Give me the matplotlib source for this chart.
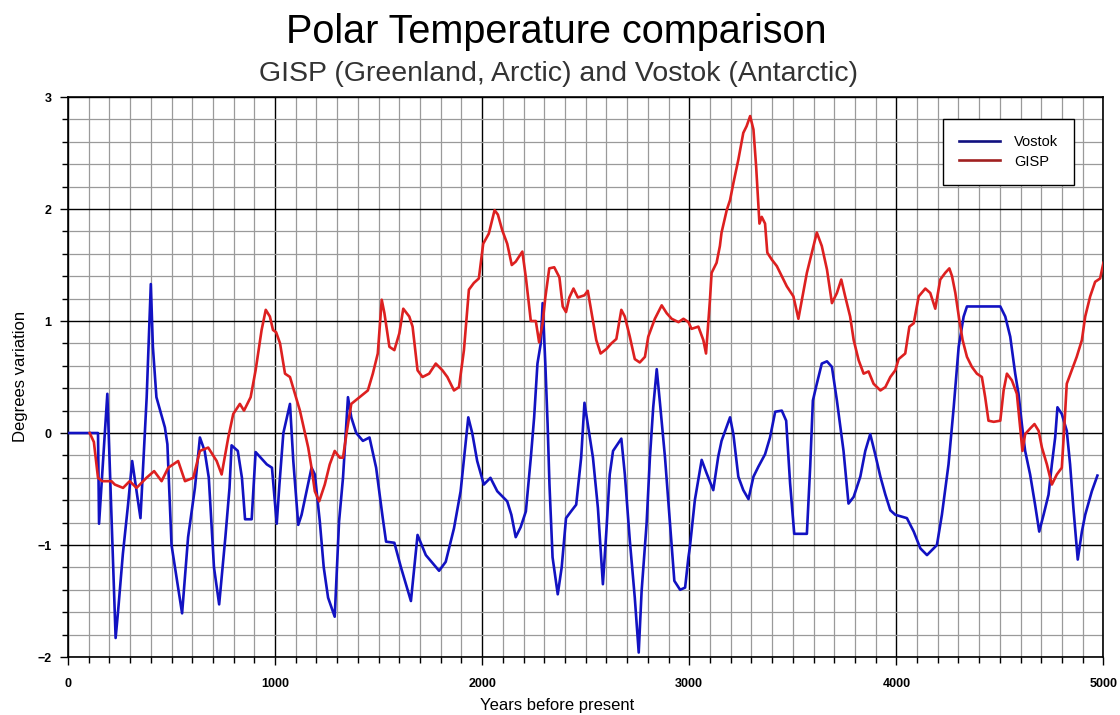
import numpy as np
import matplotlib
matplotlib.use("Agg")
import matplotlib.pyplot as plt
from matplotlib.ticker import MultipleLocator

# Vostok (Antarctic) series
vostok_years = [0, 145, 150, 190, 230, 242, 265, 290, 310, 350, 380, 400, 410, 427, 468, 480,
                500, 551, 580, 613, 637, 660, 680, 705, 730, 760, 780, 790, 820, 840, 855, 887,
                906, 960, 985, 1008, 1021, 1040, 1072, 1088, 1112, 1128, 1152, 1176, 1192, 1216,
                1235, 1256, 1288, 1309, 1328, 1352, 1368, 1392, 1424, 1456, 1488, 1520, 1536,
                1576, 1608, 1656, 1688, 1728, 1792, 1824, 1864, 1896, 1933, 1952, 1976, 2008,
                2040, 2073, 2121, 2141, 2162, 2186, 2211, 2235, 2251, 2267, 2283, 2292, 2305,
                2316, 2325, 2340, 2365, 2384, 2405, 2429, 2454, 2478, 2494, 2510, 2535, 2559,
                2583, 2600, 2616, 2632, 2672, 2689, 2713, 2737, 2756, 2770, 2794, 2810, 2826,
                2843, 2859, 2883, 2907, 2928, 2956, 2980, 2996, 3003, 3027, 3060, 3084, 3116,
                3140, 3156, 3197, 3213, 3237, 3261, 3286, 3310, 3334, 3366, 3390, 3415, 3447,
                3468, 3487, 3507, 3568, 3584, 3597, 3616, 3640, 3665, 3689, 3713, 3745, 3769,
                3794, 3826, 3850, 3874, 3898, 3923, 3947, 3971, 3995, 4051, 4084, 4116, 4148,
                4196, 4220, 4252, 4277, 4301, 4325, 4341, 4502, 4526, 4550, 4574, 4590, 4606,
                4622, 4646, 4670, 4690, 4711, 4735, 4751, 4767, 4778, 4799, 4823, 4839, 4855,
                4876, 4896, 4912, 4944, 4971]
vostok_temp = [0, 0, -0.81, 0.35, -1.83, -1.59, -1.08, -0.64, -0.25, -0.76, 0.32, 1.33, 0.77,
               0.32, 0.05, -0.1, -1.0, -1.61, -0.93, -0.49, -0.04, -0.16, -0.4, -1.2, -1.53,
               -0.93, -0.49, -0.11, -0.16, -0.4, -0.77, -0.77, -0.17, -0.28, -0.31, -0.81,
               -0.46, 0.0, 0.26, -0.25, -0.82, -0.73, -0.52, -0.31, -0.37, -0.79, -1.2, -1.47,
               -1.64, -0.79, -0.4, 0.32, 0.14, 0.0, -0.07, -0.04, -0.31, -0.76, -0.97, -0.98,
               -1.2, -1.5, -0.91, -1.09, -1.23, -1.15, -0.85, -0.52, 0.14, 0.0, -0.25, -0.46,
               -0.4, -0.52, -0.61, -0.73, -0.93, -0.84, -0.7, -0.22, 0.14, 0.62, 0.8, 1.16,
               0.62, 0.08, -0.46, -1.11, -1.44, -1.2, -0.76, -0.7, -0.64, -0.22, 0.27, 0.08,
               -0.22, -0.67, -1.35, -0.87, -0.37, -0.16, -0.05, -0.37, -0.96, -1.47, -1.96,
               -1.41, -0.81, -0.22, 0.23, 0.57, 0.26, -0.22, -0.81, -1.32, -1.4, -1.38, -1.11,
               -1.02, -0.6, -0.24, -0.36, -0.51, -0.21, -0.07, 0.14, -0.01, -0.39, -0.51, -0.59,
               -0.39, -0.3, -0.19, -0.04, 0.19, 0.2, 0.11, -0.45, -0.9, -0.9, -0.3, 0.29, 0.44,
               0.62, 0.64, 0.59, 0.29, -0.16, -0.63, -0.57, -0.39, -0.16, -0.01, -0.19, -0.39,
               -0.55, -0.69, -0.73, -0.76, -0.88, -1.03, -1.09, -1.0, -0.73, -0.28, 0.23, 0.77,
               1.04, 1.13, 1.13, 1.04, 0.86, 0.53, 0.35, 0.08, -0.16, -0.37, -0.64, -0.88,
               -0.73, -0.55, -0.28, -0.04, 0.23, 0.17, 0.02, -0.28, -0.67, -1.13, -0.88, -0.73,
               -0.52, -0.38]

# GISP (Greenland) series
gisp_years = [105, 125, 145, 165, 210, 226, 266, 298, 331, 379, 416, 452, 484, 532, 565, 605,
              637, 677, 718, 742, 774, 798, 830, 850, 882, 906, 935, 955, 975, 990, 1005, 1024,
              1048, 1072, 1096, 1120, 1144, 1160, 1176, 1192, 1213, 1240, 1264, 1288, 1312,
              1328, 1347, 1368, 1408, 1448, 1472, 1496, 1515, 1528, 1552, 1576, 1600, 1619,
              1648, 1664, 1688, 1712, 1744, 1776, 1808, 1832, 1864, 1888, 1912, 1936, 1960,
              1984, 2005, 2032, 2060, 2076, 2097, 2121, 2143, 2162, 2194, 2211, 2235, 2259,
              2275, 2292, 2305, 2324, 2348, 2373, 2389, 2405, 2421, 2441, 2462, 2494, 2510,
              2535, 2551, 2572, 2600, 2624, 2648, 2672, 2689, 2713, 2737, 2761, 2786, 2802,
              2834, 2867, 2891, 2915, 2948, 2972, 2996, 3011, 3044, 3068, 3081, 3100, 3108,
              3132, 3148, 3156, 3181, 3197, 3213, 3237, 3261, 3277, 3294, 3310, 3323, 3334,
              3339, 3350, 3366, 3377, 3398, 3423, 3447, 3471, 3503, 3527, 3544, 3568, 3592,
              3616, 3640, 3665, 3689, 3713, 3734, 3753, 3777, 3794, 3818, 3842, 3866, 3890,
              3923, 3947, 3971, 3995, 4011, 4043, 4063, 4084, 4108, 4140, 4164, 4188, 4212,
              4236, 4256, 4269, 4285, 4304, 4320, 4341, 4365, 4389, 4413, 4429, 4445, 4470,
              4502, 4518, 4534, 4558, 4582, 4598, 4609, 4622, 4646, 4667, 4687, 4703, 4727,
              4751, 4775, 4799, 4810, 4823, 4847, 4871, 4896, 4912, 4936, 4960, 4984, 5000]
gisp_temp = [0, -0.08, -0.4, -0.43, -0.43, -0.46, -0.49, -0.43, -0.49, -0.4, -0.34, -0.43,
             -0.31, -0.25, -0.43, -0.4, -0.16, -0.13, -0.25, -0.37, -0.04, 0.17, 0.26, 0.2,
             0.32, 0.56, 0.92, 1.1, 1.04, 0.92, 0.9, 0.8, 0.53, 0.5, 0.35, 0.2, 0.0, -0.13,
             -0.31, -0.52, -0.61, -0.46, -0.28, -0.16, -0.22, -0.22, 0.02, 0.26, 0.32, 0.38,
             0.53, 0.71, 1.19, 1.07, 0.77, 0.74, 0.89, 1.11, 1.04, 0.95, 0.56, 0.5, 0.53, 0.62,
             0.56, 0.5, 0.38, 0.41, 0.74, 1.28, 1.34, 1.38, 1.69, 1.78, 1.99, 1.95, 1.81, 1.69,
             1.5, 1.53, 1.62, 1.39, 1.0, 1.0, 0.81, 0.98, 1.21, 1.47, 1.48, 1.39, 1.13, 1.08,
             1.21, 1.29, 1.21, 1.23, 1.27, 1.0, 0.83, 0.71, 0.75, 0.8, 0.84, 1.1, 1.04, 0.86,
             0.66, 0.63, 0.68, 0.86, 1.02, 1.14, 1.07, 1.02, 0.99, 1.02, 0.99, 0.93, 0.95, 0.83,
             0.71, 1.19, 1.43, 1.52, 1.67, 1.79, 1.99, 2.08, 2.23, 2.44, 2.68, 2.74, 2.83, 2.71,
             2.38, 2.02, 1.87, 1.93, 1.87, 1.61, 1.55, 1.49, 1.4, 1.31, 1.22, 1.02, 1.19, 1.43,
             1.61, 1.79, 1.67, 1.46, 1.16, 1.25, 1.37, 1.22, 1.04, 0.83, 0.65, 0.53, 0.55, 0.44,
             0.38, 0.41, 0.5, 0.56, 0.66, 0.71, 0.95, 0.98, 1.22, 1.29, 1.25, 1.11, 1.37, 1.43,
             1.47, 1.4, 1.25, 1.01, 0.83, 0.68, 0.59, 0.53, 0.5, 0.32, 0.11, 0.1, 0.11, 0.38,
             0.53, 0.47, 0.35, 0.05, -0.16, -0.01, 0.04, 0.08, 0.02, -0.13, -0.28, -0.46, -0.37,
             -0.31, 0.02, 0.44, 0.56, 0.68, 0.83, 1.04, 1.22, 1.35, 1.38, 1.52]

plt.rcParams['font.family'] = ['Liberation Sans', 'DejaVu Sans']

fig = plt.figure(figsize=(11.2, 7.15), dpi=100)
ax = fig.add_axes([0.0607, 0.0811, 0.9245, 0.7832])

ax.plot(vostok_years, vostok_temp, color='#1212c2', lw=1.9, label='Vostok', zorder=3)
ax.plot(gisp_years, gisp_temp, color='#dd2020', lw=1.9, label='GISP', zorder=3)

ax.set_xlim(0, 5000)
ax.set_ylim(-2, 3)
ax.xaxis.set_major_locator(MultipleLocator(1000))
ax.xaxis.set_minor_locator(MultipleLocator(100))
ax.yaxis.set_major_locator(MultipleLocator(1))
ax.yaxis.set_minor_locator(MultipleLocator(0.2))
ax.grid(which='minor', color='#9a9a9a', lw=0.9)
ax.grid(which='major', color='black', lw=1.0)
ax.set_axisbelow(True)
ax.tick_params(which='major', direction='out', length=6, width=1, labelsize=9)
ax.tick_params(which='minor', direction='out', length=4, width=1)
ax.tick_params(axis='x', which='major', pad=9)
ax.tick_params(axis='y', which='major', pad=6)
for lbl in ax.get_xticklabels() + ax.get_yticklabels():
    lbl.set_fontweight('bold')
for sp in ax.spines.values():
    sp.set_linewidth(1.2)

leg = ax.legend(loc='upper right', bbox_to_anchor=(0.979, 0.973), fontsize=10.5,
                fancybox=False, framealpha=1, edgecolor='black', handlelength=2.8,
                borderpad=1.1, labelspacing=0.35, handletextpad=1.0)
leg.get_frame().set_linewidth(1.0)
leg.get_lines()[0].set_color('#101080')
leg.get_lines()[1].set_color('#a02020')

fig.text(0.497, 0.955, 'Polar Temperature comparison', ha='center', va='center', fontsize=28.5)
fig.text(0.499, 0.897, 'GISP (Greenland, Arctic) and Vostok (Antarctic)', ha='center',
         va='center', fontsize=20.5, color='#333333')
fig.text(0.497, 0.013, 'Years before present', ha='center', va='center', fontsize=12)
fig.text(0.018, 0.473, 'Degrees variation', ha='center', va='center', rotation=90, fontsize=12)

fig.savefig('out.png', dpi=100)
